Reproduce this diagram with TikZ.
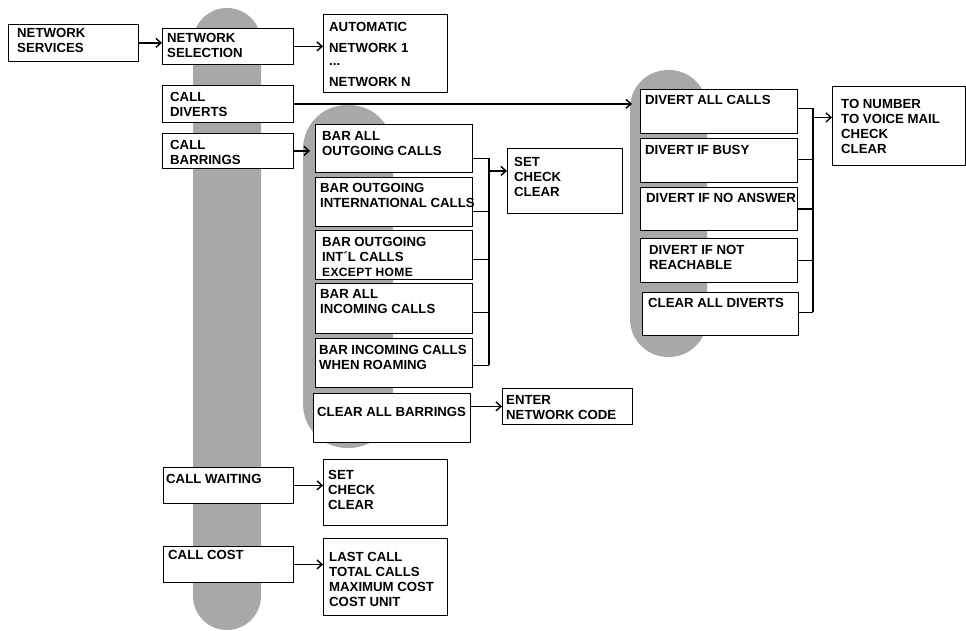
\documentclass[tikz,border=0pt]{standalone}
\usepackage{fontspec}
\setmainfont{Liberation Sans}
\usepackage{tikz}
\usetikzlibrary{positioning,arrows.meta}

\begin{document}
\begin{tikzpicture}[x=1pt,y=-1pt,
  item/.style={draw,line width=0.8pt,fill=white,anchor=north west,inner sep=0pt},
  itemtext/.style={anchor=north west,inner sep=0pt,align=left,
    font=\fontsize{13.2}{15}\selectfont\bfseries},
  conn/.style={line width=1.4pt},
  arr/.style={conn,-{Straight Barb[length=5pt,width=9pt]}},
  band/.style={fill=black!34}]
  \useasboundingbox (0,0) rectangle (966,631);
  \def\itembox#1#2#3#4#5#6#7#8{%
    \node[item,minimum width=#4pt,minimum height=#5pt] (#1) at (#2,#3) {};
    \node[itemtext] (#1-txt) at ([xshift=#6pt,yshift=-#7pt]#1.north west) {#8};}
  % grey bands behind each menu level
  \fill[band,rounded corners=34pt] (193,8) rectangle (261,630);
  \fill[band,rounded corners=44pt] (303,105) rectangle (393,448);
  \fill[band,rounded corners=38pt] (630,70) rectangle (707,357);
  % first and second level
  \itembox{services}{8}{24}{130}{37}{9}{4}{NETWORK\\SERVICES}
  \itembox{netsel}{162}{28}{131}{36}{5}{5}{NETWORK\\SELECTION}
  \itembox{diverts}{162}{85}{131}{37}{8}{7}{CALL\\DIVERTS}
  \itembox{barrings}{162}{133}{131}{35}{8}{7}{CALL\\BARRINGS}
  \itembox{waiting}{163}{467}{130}{36}{3}{7}{CALL WAITING}
  \itembox{cost}{163}{546}{130}{36}{5}{4}{CALL COST}
  \itembox{netlist}{323}{14}{124}{78}{6}{8}{AUTOMATIC\\[6pt]NETWORK 1\\[-2pt]...\\[6pt]NETWORK N}
  \itembox{waitset}{323}{459}{124}{66}{5}{11}{SET\\CHECK\\CLEAR}
  \itembox{costlist}{323}{538}{124}{77}{6}{14}{LAST CALL\\TOTAL CALLS\\MAXIMUM COST\\COST UNIT}
  % call barrings
  \itembox{barall}{315}{124}{157}{48}{7}{7}{BAR ALL\\OUTGOING CALLS}
  \itembox{barintl}{315}{177}{157}{49}{5}{6}{BAR OUTGOING\\INTERNATIONAL CALLS}
  \itembox{barhome}{315}{230}{157}{49}{7}{7}{BAR OUTGOING\\INT´L CALLS\\{\fontsize{12}{15}\selectfont\addfontfeature{LetterSpace=3}EXCEPT HOME}}
  \itembox{barin}{315}{283}{157}{50}{5}{6}{BAR ALL\\INCOMING CALLS}
  \itembox{barroam}{315}{338}{157}{49}{4}{7}{BAR INCOMING CALLS\\WHEN ROAMING}
  \itembox{clrbar}{313}{393}{157}{49}{4}{14}{CLEAR ALL BARRINGS}
  \itembox{barset}{507}{148}{115}{65}{7}{9}{SET\\CHECK\\CLEAR}
  \itembox{enter}{502}{388}{130}{36}{4}{7}{ENTER\\NETWORK CODE}
  % call diverts
  \itembox{divall}{640}{89}{157}{44}{5}{6}{DIVERT ALL CALLS}
  \itembox{divbusy}{640}{138}{157}{44}{5}{7}{DIVERT IF BUSY}
  \itembox{divnoans}{640}{187}{157}{43}{6}{6}{DIVERT IF NO ANSWER}
  \itembox{divnotr}{640}{238}{157}{44}{9}{7}{DIVERT IF NOT\\REACHABLE}
  \itembox{divclr}{642}{292}{156}{43}{6}{6}{CLEAR ALL DIVERTS}
  \itembox{tonum}{832}{86}{133}{79}{9}{13}{TO NUMBER\\TO VOICE MAIL\\CHECK\\CLEAR}
  % connectors
  \draw[arr] (services.east) -- (services.east -| netsel.west);
  \draw[arr] (netsel.east) -- (netsel.east -| netlist.west);
  \draw[arr,shorten >=8pt] (diverts.east) -- (diverts.east -| divall.west);
  \draw[arr,shorten >=5pt] (barrings.east) -- (barrings.east -| barall.west);
  \draw[arr] (waiting.east) -- (waiting.east -| waitset.west);
  \draw[arr] (cost.east) -- (cost.east -| costlist.west);
  \draw[arr] (clrbar.east |- enter.west) -- (enter.west);
  \coordinate (bartop) at ([xshift=16pt,yshift=-10pt]barall.east);
  \coordinate (barbot) at ([xshift=16pt,yshift=-2.5pt]barroam.east);
  \foreach \b/\d in {barall/10,barintl/9.5,barhome/4.5,barin/4,barroam/2.5}
    \draw[conn] ([yshift=-\d pt]\b.east) coordinate (s) -- (s -| bartop);
  \draw[conn] (bartop) -- (barbot);
  \draw[arr] ([yshift=10pt]barset.west -| bartop) -- ([yshift=10pt]barset.west);
  \coordinate (divtop) at ([xshift=15pt,yshift=3pt]divall.east);
  \coordinate (divbot) at ([xshift=14pt,yshift=1.5pt]divclr.east);
  \foreach \b/\d in {divall/3,divbusy/1,divnoans/0,divnotr/0,divclr/1.5}
    \draw[conn] ([yshift=\d pt]\b.east) coordinate (s) -- (s -| divtop);
  \draw[conn] (divtop) -- (divbot);
  \draw[arr] ([yshift=8.5pt]tonum.west -| divtop) -- ([yshift=8.5pt]tonum.west);
\end{tikzpicture}
\end{document}
